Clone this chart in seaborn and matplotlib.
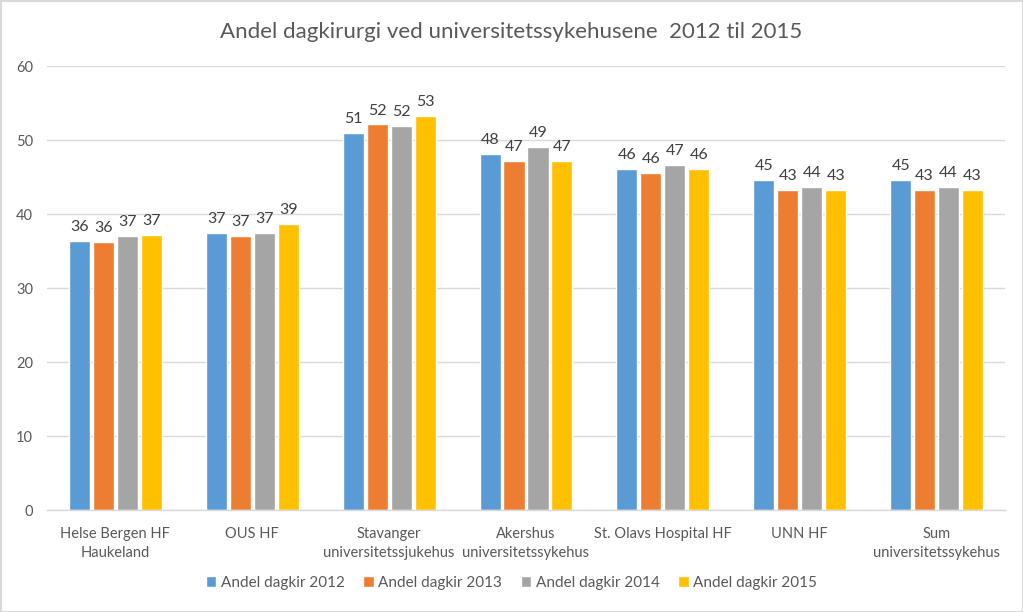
import matplotlib
matplotlib.use("Agg")
import matplotlib.pyplot as plt
import seaborn as sns
import pandas as pd
from matplotlib.patches import Rectangle

categories = ["Helse Bergen HF\nHaukeland", "OUS HF", "Stavanger\nuniversitetssjukehus",
              "Akershus\nuniversitetssykehus", "St. Olavs Hospital HF", "UNN HF",
              "Sum\nuniversitetssykehus"]
series_names = ["Andel dagkir 2012", "Andel dagkir 2013", "Andel dagkir 2014", "Andel dagkir 2015"]
v2012 = [36.3, 37.4, 51.0, 48.1, 46.1, 44.6, 44.6]
v2013 = [36.2, 37.0, 52.1, 47.2, 45.6, 43.3, 43.3]
v2014 = [37.0, 37.4, 51.9, 49.0, 46.6, 43.6, 43.6]
v2015 = [37.2, 38.6, 53.2, 47.2, 46.1, 43.3, 43.3]
title = "Andel dagkirurgi ved universitetssykehusene  2012 til 2015"
colors = ["#5B9BD5", "#ED7D31", "#A5A5A5", "#FFC000"]

rows = []
for name, vals in zip(series_names, [v2012, v2013, v2014, v2015]):
    for c, v in zip(categories, vals):
        rows.append({"cat": c, "series": name, "value": v})
df = pd.DataFrame(rows)

sns.set_theme(style="white")
plt.rcParams['font.family'] = ['Lato', 'DejaVu Sans']

fig = plt.figure(figsize=(10.23, 6.12), dpi=100)
ax = fig.add_axes([47/1023, 1 - 510/612, (1005-47)/1023, (510-66)/612])

sns.barplot(data=df, x="cat", y="value", hue="series", palette=colors,
            order=categories, hue_order=series_names, width=0.7, gap=0.12,
            saturation=1, ax=ax, legend=True)

for cont in ax.containers:
    labels = [f"{int(b.get_height() + 0.5):d}" for b in cont]
    ax.bar_label(cont, labels=labels, padding=5, fontsize=11.5, color="#404040")

ax.set_ylim(0, 60)
ax.set_yticks(range(0, 61, 10))
ax.set_xlim(-0.5, len(categories) - 0.5)
ax.yaxis.grid(True, color="#D9D9D9", linewidth=1)
ax.set_axisbelow(True)
for s in ["top", "right", "left"]:
    ax.spines[s].set_visible(False)
ax.spines["bottom"].set_color("#D9D9D9")
ax.spines["bottom"].set_linewidth(1)
ax.tick_params(axis="both", length=0, labelsize=10.5, colors="#595959")
ax.tick_params(axis="x", pad=12)
ax.tick_params(axis="y", pad=10)
for t in ax.get_xticklabels():
    t.set_linespacing(1.5)
ax.set_xlabel("")
ax.set_ylabel("")

leg = ax.legend(loc="center", ncol=4, frameon=False, fontsize=11, handlelength=0.7,
                handleheight=0.7, handletextpad=0.3, columnspacing=1.2)
leg.set_bbox_to_anchor((0.5, 1 - 583/612), transform=fig.transFigure)
for t in leg.get_texts():
    t.set_color("#595959")

fig.text(0.5, 1 - 32/612, title, ha="center", va="center", fontsize=16, color="#595959")

border = Rectangle((0.5/1023, 0.5/612), 1 - 1/1023, 1 - 1/612, transform=fig.transFigure,
                   fill=False, edgecolor="#D9D9D9", linewidth=1.5)
fig.patches.append(border)

fig.savefig("out.png", dpi=100, facecolor="white")
